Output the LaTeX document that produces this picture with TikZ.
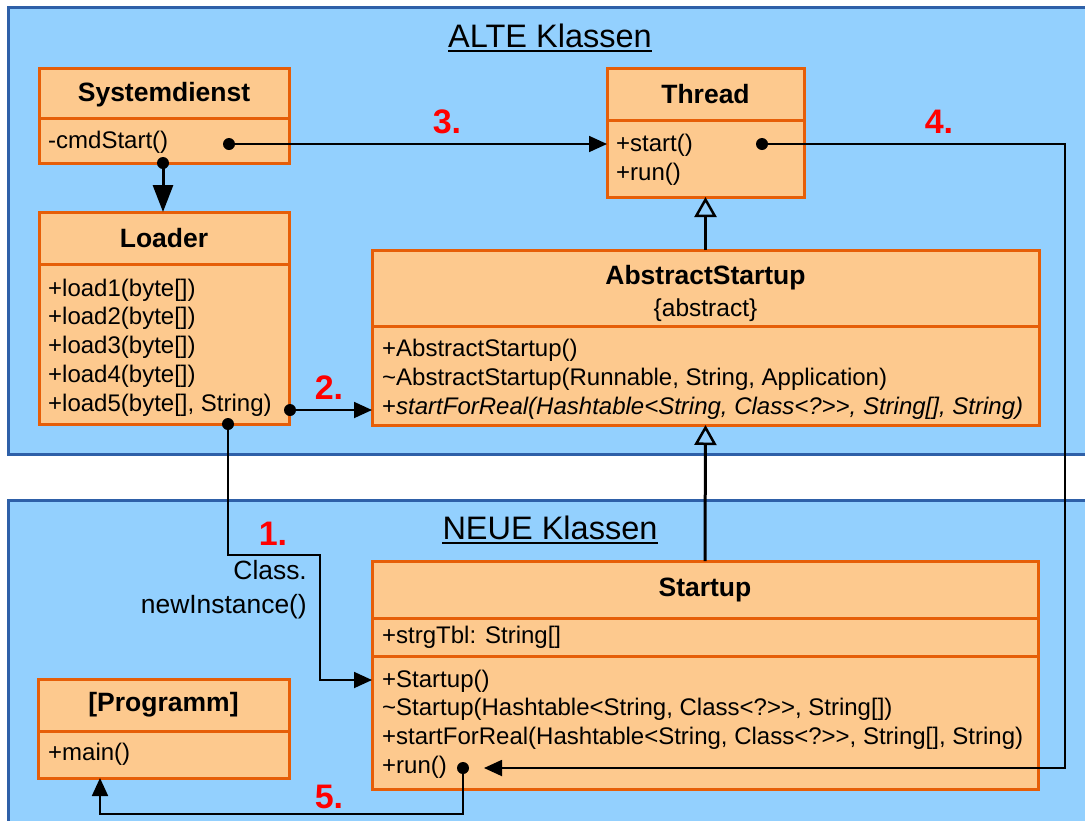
\documentclass[tikz,border=0pt]{standalone}
\usepackage{fontspec}
\setmainfont{Liberation Sans}
\usetikzlibrary{arrows.meta}
\definecolor{panelfill}{RGB}{147,208,254}
\definecolor{panelline}{RGB}{46,96,168}
\definecolor{boxfill}{RGB}{253,201,142}
\definecolor{boxline}{RGB}{230,94,8}
\definecolor{steptext}{RGB}{255,0,0}
\begin{document}
\begin{tikzpicture}[x=1pt,y=-1pt,
  panel/.style={fill=panelfill,draw=panelline,line width=3pt,anchor=north west,inner sep=0pt,outer sep=0pt},
  classbox/.style={fill=boxfill,draw=boxline,line width=3pt,anchor=north west,inner sep=0pt,outer sep=0pt},
  classname/.style={classbox,align=center,font=\fontsize{26.5}{32}\selectfont\bfseries},
  titletext/.style={align=center,inner sep=0pt,font=\fontsize{26.5}{32}\selectfont\bfseries},
  member/.style={font=\fontsize{24}{28.75}\selectfont,align=left,inner sep=0pt,anchor=west},
  conn/.style={line width=1.8pt,-{Triangle[length=18pt,width=16pt]}},
  bigconn/.style={line width=3pt,-{Triangle[length=27pt,width=20pt]}},
  gen/.style={line width=3pt,-{Triangle[open,length=20pt,width=22pt,line width=2.5pt]}},
  stepnum/.style={font=\fontsize{34}{40}\selectfont\bfseries,text=steptext,inner sep=0pt},
  heading/.style={font=\fontsize{32.5}{38}\selectfont,inner sep=0pt},
  dotr/.style={radius=6pt}
]
\useasboundingbox (0,0) rectangle (1085,820);
\fill[white] (0,0) rectangle (1085,820);
\clip (0,0) rectangle (1085,820);

% package panels
\node[panel,minimum width=1100pt,minimum height=447pt] (oldPanel) at (8,7) {};
\node[panel,minimum width=1100pt,minimum height=340pt] (newPanel) at (8,500) {};

\node[heading] (oldHead) at (550,36) {ALTE Klassen};
\draw[line width=2pt] ([yshift=-3pt]oldHead.south west) -- ([yshift=-3pt]oldHead.south east);
\node[heading] (newHead) at (550,528) {NEUE Klassen};
\draw[line width=2pt] ([yshift=-3pt]newHead.south west) -- ([yshift=-3pt]newHead.south east);

% Systemdienst
\node[classbox,minimum width=250pt,minimum height=50pt] (sysT) at (39,68) {};
\node[titletext] (sysTt) at ([yshift=-2pt]sysT.center) {Systemdienst};
\node[classbox,minimum width=250pt,minimum height=45pt] (sysB) at (sysT.south west) {};
\node[member] (sysM) at ([xshift=9pt,yshift=-2pt]sysB.west) {-cmdStart()};

% Loader
\node[classname,minimum width=250pt,minimum height=52pt] (ldT) at (39,212) {Loader};
\node[classbox,minimum width=250pt,minimum height=160pt] (ldB) at (ldT.south west) {};
\node[member] (ldM) at ([xshift=9pt,yshift=-3.5pt]ldB.west)
  {+load1(byte[])\\+load2(byte[])\\+load3(byte[])\\+load4(byte[])\\+load5(byte[], String)};

% Thread
\node[classname,minimum width=197pt,minimum height=52pt] (thrT) at (607,68) {Thread};
\node[classbox,minimum width=197pt,minimum height=77pt] (thrB) at (thrT.south west) {};
\node[member] (thrM) at ([xshift=9pt,yshift=-1.5pt]thrB.west) {+start()\\+run()};

% AbstractStartup
\node[classbox,minimum width=667pt,minimum height=76pt] (absT) at (372,250) {};
\node[titletext] (absTt) at ([yshift=-5pt]absT.center)
  {AbstractStartup\\{\mdseries\fontsize{24.5}{28}\selectfont\{abstract\}}};
\node[classbox,minimum width=667pt,minimum height=99pt] (absB) at (absT.south west) {};
\node[member] (absM) at ([xshift=10pt,yshift=-4pt]absB.west)
  {+AbstractStartup()\\{\textasciitilde}AbstractStartup(Runnable, String, Application)\\
   +\textit{startForReal(Hashtable<String, Class<?>{}>, String[], String)}};

% Startup
\node[classname,minimum width=666pt,minimum height=57pt] (stT) at (372,561) {Startup};
\node[classbox,minimum width=666pt,minimum height=38pt] (stA) at (stT.south west) {};
\node[member] (stAM) at ([xshift=10pt]stA.west) {+strgTbl: String[]};
\node[classbox,minimum width=666pt,minimum height=133pt] (stB) at (stA.south west) {};
\node[member] (stM) at ([xshift=10pt,yshift=-1.5pt]stB.west)
  {+Startup()\\{\textasciitilde}Startup(Hashtable<String, Class<?>{}>, String[])\\
   +startForReal(Hashtable<String, Class<?>{}>, String[], String)\\+run()};

% [Programm]
\node[classname,minimum width=251pt,minimum height=52pt] (prT) at (38,679) {[Programm]};
\node[classbox,minimum width=251pt,minimum height=47pt] (prB) at (prT.south west) {};
\node[member] (prM) at ([xshift=10pt]prB.west) {+main()};

% connector end points
\coordinate (cmdDotR) at (229,144);
\coordinate (cmdDotB) at (163,163);
\coordinate (startDot) at (762,144);
\coordinate (ld5Dot) at (290,410);
\coordinate (ldDotB) at (228,424);
\coordinate (runDot) at (463,768);
\coordinate (runIn) at (484,768);
\coordinate (ctorIn) at (372,680);
\coordinate (mainBend) at (100,814);

% generalisations
\draw[gen] (absT.north) -- (thrB.south);
\draw[gen] (stT.north) -- (absB.south);

% call sequence
\draw[bigconn] (cmdDotB) -- (cmdDotB |- ldT.north);
\draw[conn] (cmdDotR) -- (cmdDotR -| thrB.west);
\draw[conn] (ld5Dot) -- (ld5Dot -| absB.west);
\draw[conn] (ldDotB) |- (320,555) |- (ctorIn);
\draw[conn] (startDot) -| (1065,768) -- (runIn);
\draw[conn] (runDot) |- (mainBend) -- (mainBend |- prB.south);

\foreach \d in {cmdDotR,cmdDotB,startDot,ld5Dot,ldDotB,runDot}
  \fill (\d) circle[dotr];

\node[member,align=right,anchor=east,font=\fontsize{26.4}{34}\selectfont] (newInst) at (307,590) {Class.\\newInstance()};

% step numbers
\node[stepnum] (s1) at (273,534) {1.};
\node[stepnum] (s2) at (329,388) {2.};
\node[stepnum] (s3) at (447,122) {3.};
\node[stepnum] (s4) at (939,122) {4.};
\node[stepnum] (s5) at (329,797) {5.};
\end{tikzpicture}
\end{document}
